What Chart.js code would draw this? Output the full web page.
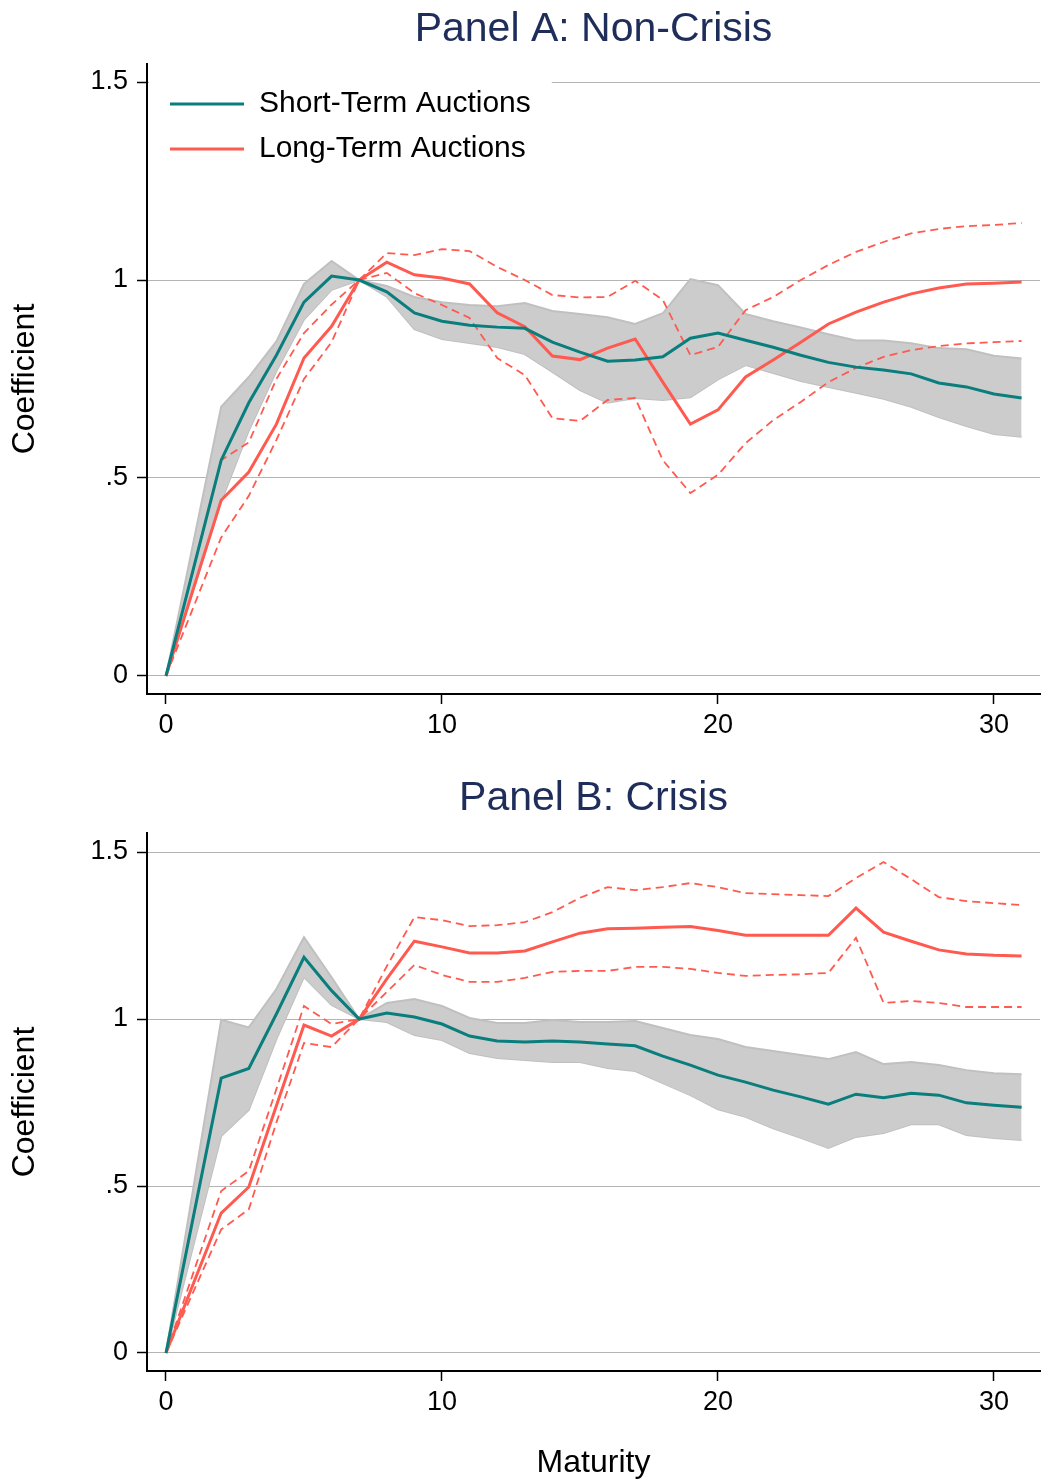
<!DOCTYPE html>
<html>
<head>
<meta charset="utf-8">
<title>Panel A: Non-Crisis / Panel B: Crisis</title>
<script src="https://cdn.jsdelivr.net/npm/chart.js@4"></script>
<style>
  body { margin: 0; background: #fff; }
  canvas { display: block; }
</style>
</head>
<body>
<canvas id="panelA" width="1041" height="760"></canvas>
<canvas id="panelB" width="1041" height="723"></canvas>

<script>
// maturities (no estimate at 1)
const maturity = [0, 2, 3, 4, 5, 6, 7, 8, 9, 10, 11, 12, 13, 14, 15, 16, 17, 18, 19, 20, 21, 22, 23, 24, 25, 26, 27, 28, 29, 30, 31];

// Panel A: Non-Crisis
const aShort   = [0, .545, .69, .81, .944, 1.01, 1.0, .97, .917, .896, .886, .881, .878, .843, .818, .795, .798, .806, .853, .866, .848, .83, .81, .792, .78, .773, .763, .74, .73, .712, .702];
const aShortHi = [0, .68, .755, .845, .99, 1.048, 1.0, .985, .957, .944, .937, .934, .942, .922, .914, .906, .889, .916, 1.002, .987, .914, .896, .88, .863, .847, .847, .84, .828, .825, .809, .802];
const aShortLo = [0, .44, .62, .77, .9, .975, 1.0, .958, .876, .851, .841, .831, .813, .768, .722, .69, .702, .697, .704, .749, .785, .765, .745, .73, .715, .70, .68, .654, .631, .611, .604];
const aLong    = [0, .444, .515, .636, .803, .883, 1.0, 1.045, 1.013, 1.005, .99, .917, .882, .808, .799, .828, .851, .742, .636, .672, .755, .798, .843, .889, .919, .944, .965, .98, .99, .992, .995];
const aLongHi  = [0, .545, .59, .75, .866, .938, 1.0, 1.068, 1.063, 1.078, 1.073, 1.033, 1.0, .962, .956, .957, .998, .95, .81, .831, .924, .957, 1.0, 1.038, 1.071, 1.096, 1.118, 1.129, 1.136, 1.139, 1.144];
const aLongLo  = [0, .35, .455, .596, .75, .843, 1.0, 1.018, .967, .937, .904, .803, .76, .651, .644, .697, .702, .545, .462, .508, .588, .646, .692, .742, .778, .806, .823, .833, .84, .843, .846];

// Panel B: Crisis
const bShort   = [0, .823, .852, 1.015, 1.185, 1.085, 1.0, 1.018, 1.006, .985, .949, .934, .931, .934, .931, .925, .92, .889, .862, .832, .811, .787, .767, .745, .775, .764, .778, .772, .749, .742, .736];
const bShortHi = [0, .998, .975, 1.09, 1.245, 1.125, 1.0, 1.048, 1.06, 1.039, 1.003, .988, .988, .997, .991, .991, .994, .973, .952, .94, .916, .904, .892, .88, .901, .865, .871, .862, .847, .838, .835];
const bShortLo = [0, .65, .728, .94, 1.126, 1.042, 1.0, .991, .952, .937, .898, .883, .877, .871, .871, .853, .844, .808, .772, .73, .707, .673, .644, .614, .647, .659, .685, .685, .653, .644, .638];
const bLong    = [0, .419, .497, .74, .982, .949, 1.0, 1.12, 1.233, 1.216, 1.198, 1.198, 1.204, 1.231, 1.257, 1.27, 1.272, 1.275, 1.277, 1.265, 1.251, 1.251, 1.251, 1.251, 1.332, 1.26, 1.233, 1.207, 1.195, 1.191, 1.189];
const bLongHi  = [0, .485, .545, .79, 1.039, .985, 1.0, 1.158, 1.305, 1.296, 1.278, 1.281, 1.29, 1.32, 1.363, 1.395, 1.386, 1.395, 1.407, 1.395, 1.377, 1.374, 1.371, 1.368, 1.422, 1.47, 1.419, 1.365, 1.353, 1.347, 1.341];
const bLongLo  = [0, .37, .43, .69, .928, .916, 1.0, 1.081, 1.162, 1.132, 1.111, 1.111, 1.123, 1.141, 1.144, 1.144, 1.156, 1.156, 1.15, 1.138, 1.129, 1.132, 1.134, 1.138, 1.243, 1.048, 1.054, 1.048, 1.036, 1.036, 1.036];

// ticks
const xTicks = [0, 10, 20, 30];
const yTicks = [0, 0.5, 1, 1.5];
const yTickLabels = ['0', '.5', '1', '1.5'];

const seriesNames = ['Short-Term Auctions', 'Long-Term Auctions'];

const TEAL = '#0a7d7d';
const RED = '#ff5a50';
const NAVY = '#1e2d5a';
const FONT = '"Liberation Sans", Arial, Helvetica, sans-serif';

Chart.defaults.font.family = FONT;
Chart.defaults.color = '#000';

function pts(vals) {
  return vals.map((v, i) => ({ x: maturity[i], y: v }));
}

// legend sits inside the plot, top-left, on a white box (hides the 1.5 grid line)
const legendBackdrop = {
  id: 'legendBackdrop',
  afterLayout(chart) {
    const lg = chart.legend;
    if (!lg || !lg.options.display || lg._wrapped) return;
    const orig = lg.draw;
    lg.draw = function () {
      const ctx = this.ctx;
      const area = chart.chartArea;
      const hb = this.legendHitBoxes;
      if (!hb.length) return orig.apply(this, arguments);
      // first item: 23px right of the y axis, 25px below the plot top
      const dx = area.left + 23 - hb[0].left;
      const dy = area.top + 25 - hb[0].top;
      const right = Math.max(...hb.map(b => b.left + b.width)) + dx;
      const bottom = Math.max(...hb.map(b => b.top + b.height)) + dy;
      ctx.save();
      ctx.fillStyle = '#fff';
      ctx.fillRect(area.left + 2, area.top, right + 21 - area.left - 2, bottom + 12 - area.top);
      ctx.translate(dx, dy);
      orig.apply(this, arguments);
      ctx.restore();
    };
    lg._wrapped = true;
  }
};

function makePanel(id, p) {
  const datasets = [
    { label: seriesNames[0], data: pts(p.short), borderColor: TEAL, borderWidth: 3, fill: false, order: 0 },
    { label: seriesNames[1], data: pts(p.long), borderColor: RED, borderWidth: 3, fill: false, order: 1 },
    { label: 'long hi', data: pts(p.longHi), borderColor: RED, borderWidth: 1.8, borderDash: [8, 5], fill: false, order: 2 },
    { label: 'long lo', data: pts(p.longLo), borderColor: RED, borderWidth: 1.8, borderDash: [8, 5], fill: false, order: 2 },
    { label: 'short hi', data: pts(p.shortHi), borderColor: '#c0c0c0', borderWidth: 2, backgroundColor: '#cccccc', fill: '+1', order: 3 },
    { label: 'short lo', data: pts(p.shortLo), borderColor: '#c0c0c0', borderWidth: 2, fill: false, order: 3 }
  ];

  return new Chart(document.getElementById(id), {
    type: 'line',
    data: { datasets },
    options: {
      responsive: false,
      animation: false,
      elements: { point: { radius: 0 }, line: { tension: 0 } },
      layout: { padding: { left: 0, right: 1, top: 0, bottom: 0 } },
      plugins: {
        tooltip: { enabled: false },
        title: {
          display: true,
          fullSize: false,
          text: p.title,
          color: NAVY,
          font: { size: 41, weight: 'normal' },
          padding: p.titlePad
        },
        legend: {
          display: p.legend,
          position: 'chartArea',
          align: 'start',
          labels: {
            filter: item => item.datasetIndex < 2,
            usePointStyle: true,
            pointStyle: 'line',
            pointStyleWidth: 74,
            padding: 15,
            color: '#000',
            font: { size: 30 }
          }
        }
      },
      scales: {
        x: {
          type: 'linear',
          min: -0.688,
          max: 31.667,
          afterBuildTicks: s => { s.ticks = xTicks.map(v => ({ value: v })); },
          afterFit: s => { s.height = p.xHeight; },
          grid: { drawOnChartArea: false, tickLength: 10, tickColor: '#000', tickWidth: 1.5 },
          border: { color: '#000', width: 2 },
          ticks: { color: '#000', font: { size: 27 }, padding: 5, maxRotation: 0, callback: v => String(v) },
          title: p.xTitle
            ? { display: true, text: p.xTitle, color: '#000', font: { size: 32 }, padding: { top: 0, bottom: 1 } }
            : { display: false }
        },
        y: {
          min: p.yMin,
          max: p.yMax,
          afterBuildTicks: s => { s.ticks = yTicks.map(v => ({ value: v })); },
          afterFit: s => { s.width = 147; },
          grid: { color: '#b4b4b4', lineWidth: 1, tickLength: 10, tickColor: '#000', tickWidth: 1.5 },
          border: { color: '#000', width: 2 },
          ticks: { color: '#000', font: { size: 27 }, padding: 9, callback: v => yTickLabels[yTicks.indexOf(v)] },
          title: { display: true, text: 'Coefficient', color: '#000', font: { size: 32 }, padding: { top: 6, bottom: 0 } }
        }
      }
    },
    plugins: [legendBackdrop]
  });
}

makePanel('panelA', {
  title: 'Panel A: Non-Crisis',
  titlePad: { top: 5, bottom: 9.8 },
  legend: true,
  short: aShort, shortHi: aShortHi, shortLo: aShortLo,
  long: aLong, longHi: aLongHi, longLo: aLongLo,
  yMin: -0.0455, yMax: 1.5455,
  xHeight: 66,
  xTitle: null
});

makePanel('panelB', {
  title: 'Panel B: Crisis',
  titlePad: { top: 14, bottom: 9.8 },
  legend: false,
  short: bShort, shortHi: bShortHi, shortLo: bShortLo,
  long: bLong, longHi: bLongHi, longLo: bLongLo,
  yMin: -0.0539, yMax: 1.557,
  xHeight: 112,
  xTitle: 'Maturity'
});
</script>
</body>
</html>
